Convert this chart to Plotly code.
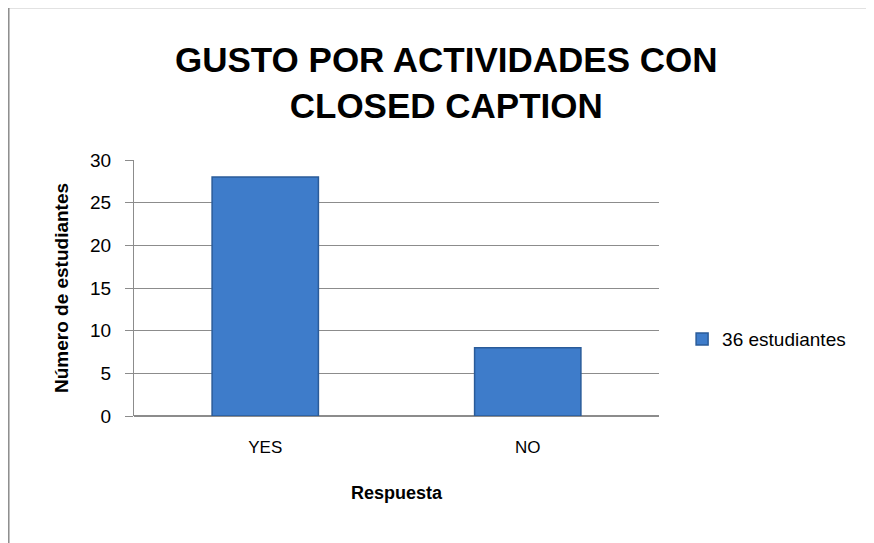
import plotly.graph_objects as go

categories = ["YES", "NO"]
values = [28, 8]
series_name = "36 estudiantes"

fig = go.Figure()
fig.add_trace(go.Bar(
    x=categories,
    y=values,
    name=series_name,
    marker=dict(color="#3E7CCA", line=dict(color="#2A5B99", width=1.5)),
    width=0.405,
    showlegend=True,
))

font_fam = "Liberation Sans, Arial, sans-serif"

# page body adds an 8px offset, so margins are shifted by that amount
fig.update_layout(
    width=874,
    height=543,
    paper_bgcolor="white",
    plot_bgcolor="white",
    font=dict(family=font_fam, size=15, color="black"),
    margin=dict(l=126, r=223, t=152, b=135, autoexpand=False),
    xaxis=dict(
        showline=False,
        ticks="",
        tickfont=dict(size=17),
        ticklabelstandoff=19,
        automargin=False,
        title=dict(text="<b>Respuesta</b>", font=dict(size=18), standoff=30),
    ),
    yaxis=dict(
        range=[0, 30],
        dtick=5,
        showgrid=True,
        gridcolor="#8C8C8C",
        gridwidth=1.3,
        showline=True,
        linecolor="#8C8C8C",
        linewidth=1.3,
        ticks="outside",
        ticklen=8,
        tickcolor="#8C8C8C",
        tickfont=dict(size=19),
        ticklabelstandoff=10,
        zeroline=True,
        zerolinecolor="#8C8C8C",
        automargin=False,
        title=dict(text="<b>Número de estudiantes</b>", font=dict(size=19), standoff=16),
    ),
    legend=dict(
        x=1.044, xanchor="left",
        y=0.30, yanchor="middle",
        font=dict(size=19),
        itemwidth=30,
    ),
    annotations=[dict(
        text="<b>GUSTO POR ACTIVIDADES CON<br>CLOSED CAPTION</b>",
        xref="paper", yref="paper",
        x=0.596, xanchor="center",
        y=(416 - 82) / 256, yanchor="middle",
        showarrow=False,
        font=dict(family=font_fam, size=35, color="black"),
    )],
    shapes=[dict(
        type="rect", xref="paper", yref="paper",
        x0=-0.2385, x1=1.6, y0=-0.6, y1=1.5957,
        line=dict(color="#8C8C8C", width=1.5),
    )],
)

fig.write_html("out.html")
